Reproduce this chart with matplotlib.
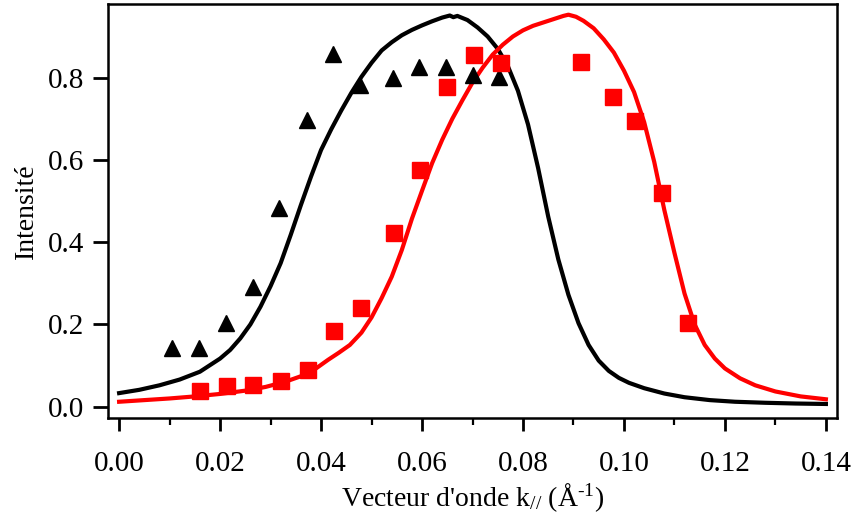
import matplotlib
matplotlib.use("Agg")
import matplotlib.pyplot as plt
from matplotlib.ticker import MultipleLocator

plt.rcParams['font.family'] = ['Liberation Serif', 'DejaVu Serif']
plt.rcParams['mathtext.fontset'] = 'custom'
plt.rcParams['mathtext.rm'] = 'Liberation Serif'
plt.rcParams['mathtext.it'] = 'Liberation Serif:italic'

# Measured points
tri_x = [0.0104, 0.0158, 0.0212, 0.0265, 0.0317, 0.0372, 0.0424, 0.0477,
         0.0543, 0.0594, 0.0648, 0.0701, 0.0752]
tri_y = [0.142, 0.142, 0.203, 0.292, 0.482, 0.697, 0.858, 0.782,
         0.800, 0.825, 0.826, 0.806, 0.801]

sq_x = [0.0160, 0.0213, 0.0266, 0.0320, 0.0374, 0.0426, 0.0480, 0.0545,
        0.0596, 0.0649, 0.0703, 0.0756, 0.0915, 0.0978, 0.1022, 0.1075, 0.1127]
sq_y = [0.039, 0.050, 0.053, 0.063, 0.089, 0.183, 0.240, 0.422,
        0.575, 0.776, 0.855, 0.835, 0.839, 0.753, 0.695, 0.519, 0.203]

# Fit curves
black_x = [0.000, 0.004, 0.008, 0.012, 0.016, 0.020, 0.022, 0.024, 0.026, 0.028,
           0.030, 0.032, 0.034, 0.036, 0.038, 0.040, 0.042, 0.044, 0.046, 0.048,
           0.050, 0.052, 0.054, 0.056, 0.058, 0.060, 0.062, 0.064, 0.0655, 0.0662,
           0.067, 0.069, 0.071, 0.073, 0.075, 0.077, 0.079, 0.081, 0.083, 0.085,
           0.087, 0.089, 0.091, 0.093, 0.095, 0.097, 0.099, 0.101, 0.104, 0.108,
           0.112, 0.117, 0.122, 0.128, 0.134, 0.140]
black_y = [0.033, 0.041, 0.052, 0.066, 0.085, 0.117, 0.138, 0.166, 0.200, 0.243,
           0.293, 0.349, 0.418, 0.490, 0.559, 0.624, 0.674, 0.720, 0.763, 0.802,
           0.836, 0.866, 0.886, 0.903, 0.916, 0.927, 0.937, 0.946, 0.951, 0.947,
           0.950, 0.940, 0.922, 0.900, 0.870, 0.828, 0.768, 0.686, 0.580, 0.462,
           0.358, 0.272, 0.203, 0.150, 0.112, 0.087, 0.070, 0.058, 0.045, 0.032,
           0.023, 0.016, 0.012, 0.0095, 0.0077, 0.0066]

red_x = [0.000, 0.005, 0.010, 0.015, 0.020, 0.025, 0.029, 0.033, 0.036, 0.039,
         0.0414, 0.0435, 0.0457, 0.048, 0.050, 0.052, 0.054, 0.056, 0.058, 0.060,
         0.062, 0.064, 0.066, 0.068, 0.070, 0.072, 0.074, 0.076, 0.078, 0.080,
         0.082, 0.084, 0.086, 0.088, 0.089, 0.0905, 0.092, 0.094, 0.096, 0.098,
         0.100, 0.102, 0.104, 0.106, 0.108, 0.110, 0.112, 0.114, 0.116, 0.118,
         0.120, 0.123, 0.126, 0.130, 0.135, 0.140]
red_y = [0.012, 0.016, 0.020, 0.025, 0.031, 0.039, 0.048, 0.061, 0.074, 0.093,
         0.114, 0.131, 0.150, 0.180, 0.217, 0.264, 0.316, 0.381, 0.457, 0.525,
         0.592, 0.649, 0.700, 0.745, 0.788, 0.824, 0.856, 0.880, 0.900, 0.915,
         0.926, 0.934, 0.942, 0.950, 0.953, 0.948, 0.938, 0.920, 0.893, 0.861,
         0.817, 0.765, 0.692, 0.595, 0.478, 0.374, 0.275, 0.200, 0.150, 0.117,
         0.093, 0.069, 0.052, 0.037, 0.025, 0.018]

fig = plt.figure(figsize=(8.56, 5.27), dpi=100)
ax = fig.add_axes([107.5/856, 1-418/527, (837-107.5)/856, (418-4)/527])

ax.plot(black_x, black_y, color='black', lw=3, solid_joinstyle='round')
ax.plot(red_x, red_y, color='#ff0000', lw=3, solid_joinstyle='round')
ax.plot(tri_x, tri_y, linestyle='none', marker='^', color='black', ms=11)
ax.plot(sq_x, sq_y, linestyle='none', marker='s', color='#ff0000', ms=11)

ax.xaxis.set_minor_locator(MultipleLocator(0.01))
ax.yaxis.set_major_locator(MultipleLocator(0.2))
ax.xaxis.set_major_formatter(plt.FormatStrFormatter('%.2f'))
ax.yaxis.set_major_formatter(plt.FormatStrFormatter('%.1f'))
ax.set_xticks([0.0, 0.02, 0.04, 0.06, 0.08, 0.10, 0.12, 0.14])
ax.set_xlim(-0.0023, 0.1422)
ax.set_ylim(-0.0275, 0.979)

for s in ax.spines.values():
    s.set_linewidth(1.8)

ax.tick_params(axis='x', which='major', direction='out', length=9.5, width=2,
               labelsize=21, pad=14, top=False)
ax.tick_params(axis='x', which='minor', direction='out', length=5, width=1.6, top=False)
ax.tick_params(axis='y', which='major', direction='out', length=11, width=2,
               labelsize=21, pad=6, right=False)

ax.set_xlabel("Vecteur d'onde k$_{//}$ (Å$^{\\mathrm{\u2010}1}$)", fontsize=20, labelpad=3)
ax.set_ylabel("Intensité", fontsize=20, labelpad=6)

fig.savefig("out.png", dpi=100)
